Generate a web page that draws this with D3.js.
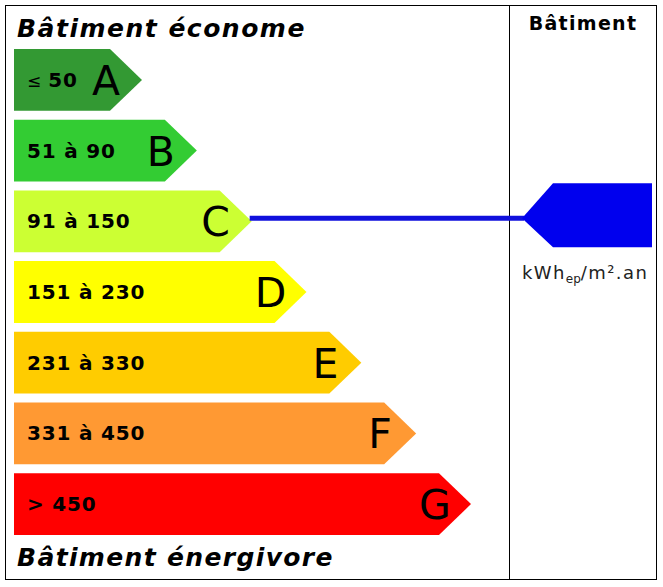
<!DOCTYPE html>
<html>
<head>
<meta charset="utf-8">
<script src="https://cdn.jsdelivr.net/npm/d3@7"></script>
<style>
  body { margin: 0; background: #fff; }
  svg { display: block; }
</style>
</head>
<body>
<svg width="663" height="587"></svg>
<script>
// classes énergétiques et leurs bornes (kWh_ep/m².an)
var classes = ["A", "B", "C", "D", "E", "F", "G"];
var ranges = ["50", "51 à 90", "91 à 150", "151 à 230", "231 à 330", "331 à 450", "> 450"];
var colors = ["#339933", "#33cc33", "#ccff33", "#ffff00", "#ffcc00", "#ff9933", "#ff0000"];
var buildingClass = "C"; // classe du bâtiment

var svg = d3.select("svg");

// lignes des barres
var y = d3.scaleBand().domain(classes).range([49, 535]).paddingInner(0.126).paddingOuter(0);
// position de la pointe de chaque barre
var x = d3.scaleLinear().domain([0, classes.length - 1]).range([142, 471]);
var tip = 32, left = 14;

// cadre
svg.append("rect").attr("x", 5.5).attr("y", 5.5).attr("width", 651).attr("height", 574)
    .attr("fill", "none").attr("stroke", "#000").attr("stroke-width", 1);
svg.append("line").attr("x1", 509.5).attr("x2", 509.5).attr("y1", 5.5).attr("y2", 579.5)
    .attr("stroke", "#000").attr("stroke-width", 1);

svg.append("text").attr("x", 17).attr("y", 37)
    .attr("font-family", "DejaVu Sans").attr("font-weight", "bold").attr("font-style", "italic")
    .attr("font-size", 25).attr("letter-spacing", 1.5).text("Bâtiment économe");
svg.append("text").attr("x", 17).attr("y", 566)
    .attr("font-family", "DejaVu Sans").attr("font-weight", "bold").attr("font-style", "italic")
    .attr("font-size", 25).attr("letter-spacing", 1.35).text("Bâtiment énergivore");
svg.append("text").attr("x", 583).attr("y", 30).attr("text-anchor", "middle")
    .attr("font-family", "DejaVu Sans").attr("font-weight", "bold")
    .attr("font-size", 19).attr("letter-spacing", 1.3).text("Bâtiment");

var bars = svg.selectAll(".bar")
  .data(classes)
  .enter().append("g")
    .attr("class", "bar");

bars.append("path")
    .attr("fill", function(d, i) { return colors[i]; })
    .attr("d", function(d, i) {
      var t = y(d), h = y.bandwidth(), xe = x(i);
      return "M" + left + "," + t + "H" + (xe - tip) + "L" + xe + "," + (t + h / 2) +
             "L" + (xe - tip) + "," + (t + h) + "H" + left + "Z";
    });

bars.append("text")
    .attr("x", function(d, i) { return x(i) - 36; })
    .attr("y", function(d) { return y(d) + y.bandwidth() / 2 + 15; })
    .attr("text-anchor", "middle")
    .attr("font-family", "DejaVu Sans").attr("font-size", 41)
    .text(function(d) { return d; });

var lab = bars.append("text")
    .attr("x", 27)
    .attr("y", function(d) { return y(d) + y.bandwidth() / 2 + 7; })
    .attr("font-family", "DejaVu Sans").attr("font-weight", "bold").attr("font-size", 20)
    .attr("letter-spacing", 0.8);
lab.filter(function(d, i) { return i === 0; }).append("tspan")
    .attr("font-weight", "normal").attr("font-size", 17).text("≤ ");
lab.append("tspan").text(function(d, i) { return ranges[i]; });

// flèche du bâtiment
var bi = classes.indexOf(buildingClass);
var cy = y(buildingClass) + y.bandwidth() / 2 - 3;
svg.append("line")
    .attr("x1", x(bi) - 2).attr("x2", 524).attr("y1", cy).attr("y2", cy)
    .attr("stroke", "#1010dd").attr("stroke-width", 5);
svg.append("path")
    .attr("fill", "#0000ee")
    .attr("d", "M522," + cy + "L553," + (cy - 35) + "H652V" + (cy + 29) + "H553Z");

var unit = svg.append("text").attr("x", 522).attr("y", 279)
    .attr("font-family", "DejaVu Sans").attr("font-size", 18).attr("fill", "#222")
    .attr("letter-spacing", 1.4);
unit.append("tspan").text("kWh");
unit.append("tspan").attr("font-size", 12).attr("dy", 4).attr("letter-spacing", 0).text("ep");
unit.append("tspan").attr("dy", -4).text("/m².an");
</script>
</body>
</html>
